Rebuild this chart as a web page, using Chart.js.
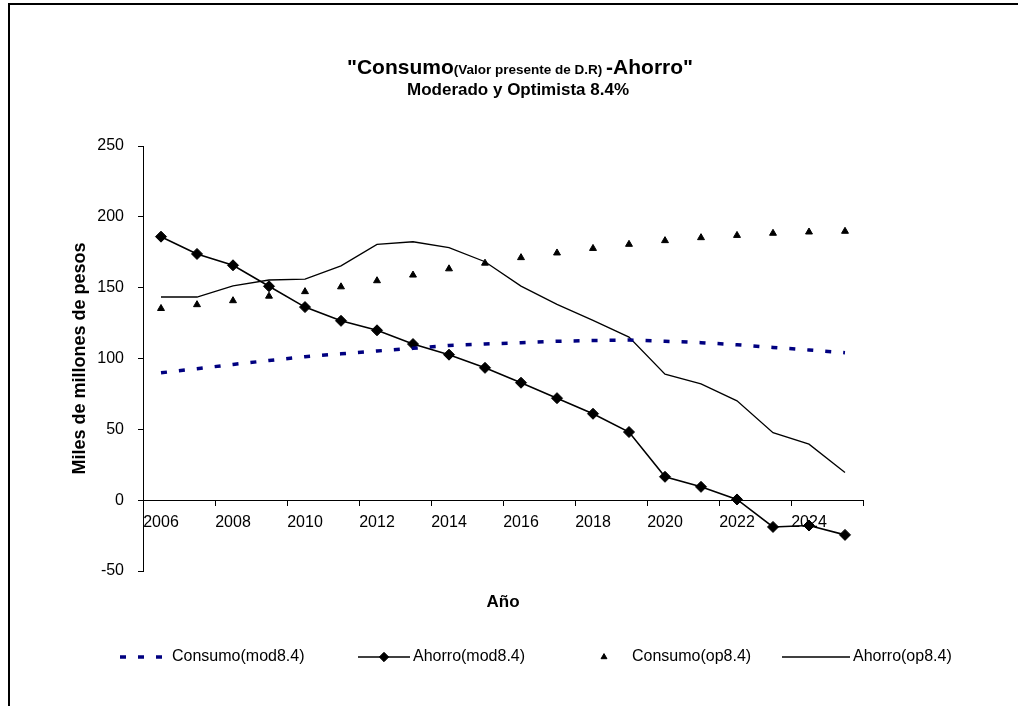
<!DOCTYPE html>
<html>
<head>
<meta charset="utf-8">
<title>Consumo - Ahorro</title>
<script src="https://cdn.jsdelivr.net/npm/chart.js@4.4.1/dist/chart.umd.min.js"></script>
<style>
  html, body { margin: 0; padding: 0; background: #ffffff; }
  canvas { display: block; }
</style>
</head>
<body>
<canvas id="chart" width="1018" height="706"></canvas>
<script>
// Years on the horizontal axis
const years = ['2006','2007','2008','2009','2010','2011','2012','2013','2014','2015',
               '2016','2017','2018','2019','2020','2021','2022','2023','2024','2025'];

// Series values (miles de millones de pesos)
const consumoMod = [89.9, 92.8, 95.8, 98.6, 101.3, 103.3, 105.3, 107.2, 109.2, 110.2,
                    111.2, 112.2, 112.7, 113.0, 112.2, 111.2, 109.7, 107.8, 106.0, 104.1];
const ahorroMod  = [186.0, 173.8, 165.8, 151.0, 136.3, 126.6, 119.9, 110.2, 102.7, 93.4,
                    82.9, 72.0, 61.0, 48.1, 16.5, 9.4, 0.5, -18.9, -17.9, -24.5];
const consumoOp  = [135.3, 138.0, 140.8, 144.0, 147.2, 150.6, 154.9, 158.9, 163.3, 167.3,
                    171.2, 174.5, 177.7, 180.6, 183.2, 185.3, 186.9, 188.4, 189.3, 189.8];
const ahorroOp   = [143.4, 143.4, 151.3, 155.4, 156.1, 165.4, 180.5, 182.4, 178.2, 168.3,
                    151.1, 138.2, 126.9, 115.1, 89.0, 82.1, 70.1, 47.6, 39.5, 19.6];

const seriesNames = ['Consumo(mod8.4)', 'Ahorro(mod8.4)', 'Consumo(op8.4)', 'Ahorro(op8.4)'];

// Value axis ticks
const yMin = -50, yMax = 250, yStep = 50;

// Texts
const titleParts = ['"Consumo', '(Valor presente de D.R) ', '-Ahorro"'];
const subtitle = 'Moderado y Optimista 8.4%';
const yAxisTitle = 'Miles de millones de pesos';
const xAxisTitle = 'Año';

const FF = "'Liberation Sans', Arial, Helvetica, sans-serif";
const NAVY = '#000080';

// Outer frame (left and top edges)
const framePlugin = {
  id: 'frame',
  beforeDraw(chart) {
    const ctx = chart.ctx;
    ctx.save();
    ctx.fillStyle = '#ffffff';
    ctx.fillRect(0, 0, chart.width, chart.height);
    ctx.fillStyle = '#000000';
    ctx.fillRect(8, 3, chart.width - 8, 2);
    ctx.fillRect(8, 3, 2, chart.height - 3);
    ctx.restore();
  }
};

// Two-line heading with mixed font sizes on the first line
const headerPlugin = {
  id: 'header',
  afterDraw(chart) {
    const ctx = chart.ctx;
    ctx.save();
    ctx.fillStyle = '#000000';
    ctx.textBaseline = 'alphabetic';
    ctx.textAlign = 'left';
    const fonts = ['bold 21px ' + FF, 'bold 13.5px ' + FF, 'bold 21px ' + FF];
    const widths = titleParts.map((t, i) => { ctx.font = fonts[i]; return ctx.measureText(t).width; });
    const total = widths.reduce((a, b) => a + b, 0);
    let x = 520 - total / 2;
    titleParts.forEach((t, i) => {
      ctx.font = fonts[i];
      ctx.fillText(t, x, 74);
      x += widths[i];
    });
    ctx.font = 'bold 17px ' + FF;
    ctx.textAlign = 'center';
    ctx.fillText(subtitle, 518, 95);
    ctx.restore();
  }
};

// Legend row with line + marker samples taken from each dataset's style
const legendPlugin = {
  id: 'rowLegend',
  afterDraw(chart) {
    const ctx = chart.ctx;
    const y = 657;
    const slots = [
      { x1: 120, x2: 164, marker: 142, text: 172 },
      { x1: 358, x2: 410, marker: 384, text: 413 },
      { x1: 604, x2: 604, marker: 604, text: 632 },
      { x1: 782, x2: 850, marker: 816, text: 853 }
    ];
    ctx.save();
    chart.data.datasets.forEach((ds, i) => {
      const s = slots[i];
      if (ds.showLine !== false) {
        ctx.save();
        ctx.strokeStyle = ds.borderColor;
        ctx.lineWidth = ds.borderWidth;
        ctx.setLineDash(ds.borderDash || []);
        ctx.lineCap = 'butt';
        ctx.beginPath();
        ctx.moveTo(s.x1, y);
        ctx.lineTo(s.x2, y);
        ctx.stroke();
        ctx.restore();
      }
      if (ds.pointRadius > 0) {
        ctx.save();
        ctx.fillStyle = ds.pointBackgroundColor;
        ctx.strokeStyle = ds.pointBorderColor;
        ctx.lineWidth = 1;
        Chart.helpers.drawPoint(ctx, {
          pointStyle: ds.pointStyle,
          radius: ds.pointRadius * 0.85,
          rotation: 0,
          borderWidth: 1
        }, s.marker, y);
        ctx.restore();
      }
      ctx.fillStyle = '#000000';
      ctx.font = '16px ' + FF;
      ctx.textAlign = 'left';
      ctx.textBaseline = 'middle';
      ctx.fillText(ds.label, s.text, y);
    });
    ctx.restore();
  }
};

new Chart(document.getElementById('chart'), {
  type: 'line',
  data: {
    labels: years,
    datasets: [
      {
        label: seriesNames[0],
        data: consumoMod,
        xAxisID: 'x', yAxisID: 'y',
        borderColor: NAVY,
        borderWidth: 3.5,
        borderDash: [6, 12],
        borderCapStyle: 'butt',
        pointRadius: 0,
        fill: false,
        tension: 0
      },
      {
        label: seriesNames[1],
        data: ahorroMod,
        xAxisID: 'x', yAxisID: 'y',
        borderColor: '#000000',
        borderWidth: 1.6,
        pointStyle: 'rectRot',
        pointRadius: 5.5,
        pointBackgroundColor: '#000000',
        pointBorderColor: '#000000',
        pointBorderWidth: 1,
        fill: false,
        tension: 0
      },
      {
        label: seriesNames[2],
        data: consumoOp,
        xAxisID: 'x', yAxisID: 'y',
        showLine: false,
        borderColor: '#000000',
        borderWidth: 0,
        pointStyle: 'triangle',
        pointRadius: 4,
        pointBackgroundColor: '#000000',
        pointBorderColor: '#000000',
        pointBorderWidth: 1,
        fill: false
      },
      {
        label: seriesNames[3],
        data: ahorroOp,
        xAxisID: 'x', yAxisID: 'y',
        borderColor: '#000000',
        borderWidth: 1.3,
        pointRadius: 0,
        fill: false,
        tension: 0
      }
    ]
  },
  options: {
    responsive: false,
    devicePixelRatio: 1,
    animation: false,
    events: [],
    layout: { padding: { left: 60, top: 146, right: 155, bottom: 75 } },
    plugins: {
      legend: { display: false },
      title: { display: false },
      tooltip: { enabled: false }
    },
    scales: {
      x: {
        type: 'category',
        position: { y: 0 },
        offset: true,
        grid: {
          offset: true,
          drawOnChartArea: false,
          drawTicks: true,
          tickLength: 5,
          color: (c) => (c.index === undefined || c.index % 2 === 0) ? '#000000' : 'rgba(0,0,0,0)',
          lineWidth: 1
        },
        border: { display: true, color: '#000000', width: 1 },
        ticks: {
          autoSkip: false,
          maxRotation: 0,
          minRotation: 0,
          padding: 8,
          color: '#000000',
          font: { family: FF, size: 16 },
          callback: function (value, index) { return index % 2 === 0 ? this.getLabelForValue(value) : ''; }
        }
      },
      xName: {
        type: 'category',
        labels: years,
        position: 'bottom',
        grid: { display: false, drawTicks: false },
        border: { display: false },
        ticks: { display: false },
        title: {
          display: true,
          text: xAxisTitle,
          color: '#000000',
          font: { family: FF, size: 17, weight: 'bold' },
          padding: { top: 0, bottom: 18 }
        },
        afterFit(scale) { scale.height = 60; }
      },
      y: {
        type: 'linear',
        position: 'left',
        min: yMin,
        max: yMax,
        grid: {
          drawOnChartArea: false,
          drawTicks: true,
          tickLength: 5,
          color: '#000000'
        },
        border: { display: true, color: '#000000', width: 1 },
        ticks: {
          stepSize: yStep,
          padding: 14,
          color: '#000000',
          font: { family: FF, size: 16 }
        },
        title: {
          display: true,
          text: yAxisTitle,
          color: '#000000',
          font: { family: FF, size: 18, weight: 'bold' },
          padding: { top: 9, bottom: 0 }
        },
        afterFit(scale) { scale.width = 83; }
      }
    }
  },
  plugins: [framePlugin, headerPlugin, legendPlugin]
});
</script>
</body>
</html>
